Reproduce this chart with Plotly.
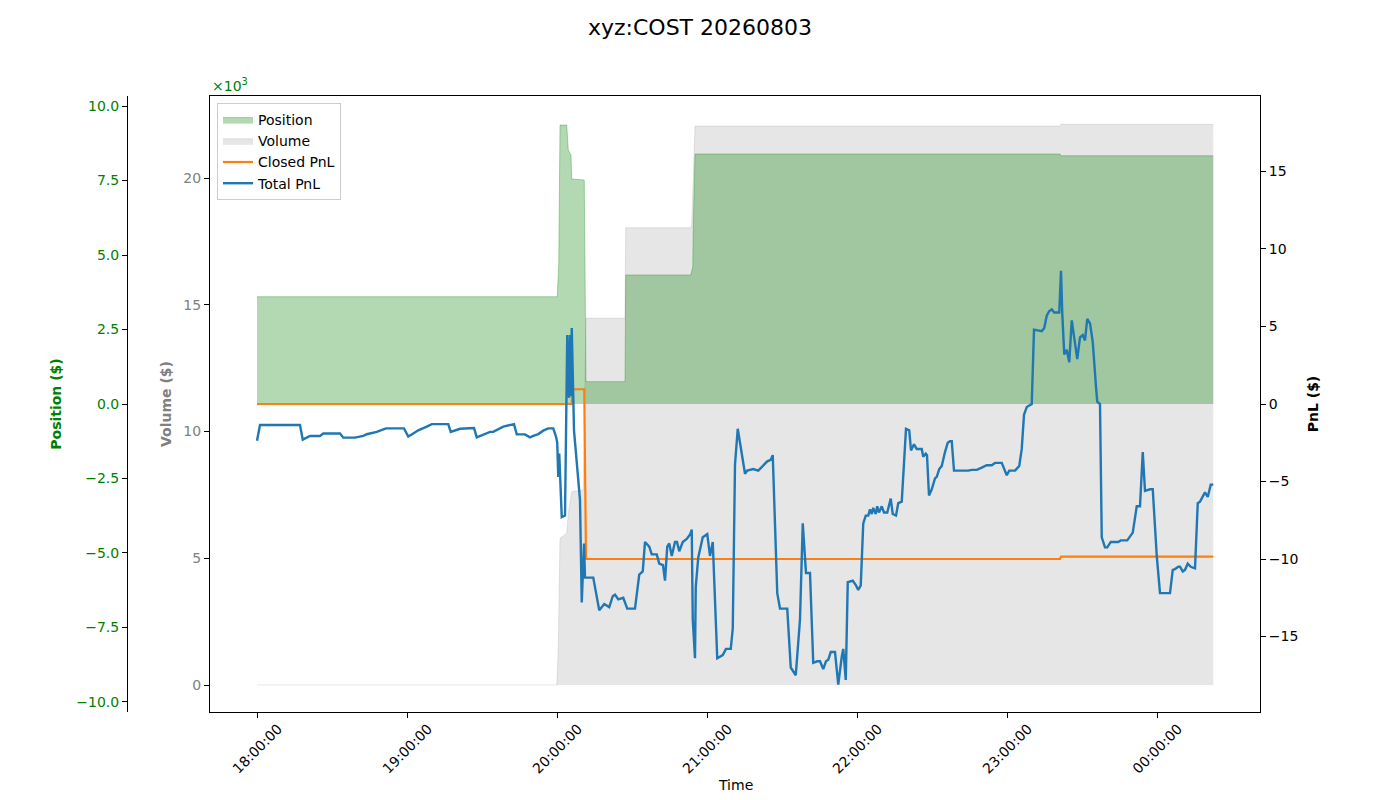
import pandas as pd
import plotly.graph_objects as go

# Session start; all series are stored as minutes after 18:00
start = pd.Timestamp('2026-08-03 18:00:00')

pnl_minutes = [0.0, 1.2, 17.2, 18.3, 21.2, 25.2, 26.5, 33.2, 34.5, 39.2, 42.5, 43.9, 47.9, 51.6, 58.8,
               60.5, 62.5, 64.5, 67.9, 69.9, 76.5, 77.5, 81.2, 84.5, 86.8, 87.9, 91.6, 93.2, 94.5, 96.5,
               98.5, 102.8, 103.9, 107.2, 109.2, 110.5, 112.5, 114.5, 116.5, 118.5, 119.6, 120.1, 120.5,
               120.9, 121.9, 123.2, 124.1, 124.8, 125.2, 125.5, 125.9, 126.8, 129.2, 129.9, 130.8, 131.2,
               134.5, 136.9, 138.9, 140.9, 142.3, 143.2, 144.5, 146.5, 148.1, 151.2, 152.9, 154.3, 155.2,
               156.9, 157.9, 159.9, 160.9, 162.4, 163.2, 164.1, 164.9, 165.9, 167.2, 168.0, 168.9, 170.3,
               171.9, 173.3, 173.9, 174.3, 175.2, 175.5, 176.5, 178.3, 180.1, 181.2, 182.3, 184.1, 185.2,
               186.3, 187.6, 189.5, 190.3, 191.2, 192.3, 195.2, 196.1, 198.5, 200.5, 202.3, 204.1, 205.5,
               206.3, 208.1, 209.2, 212.1, 213.5, 215.5, 217.2, 218.3, 219.6, 221.2, 222.5, 224.1, 225.2,
               226.5, 227.6, 228.5, 229.5, 231.2, 232.5, 233.9, 234.5, 235.5, 236.3, 238.3, 239.6, 240.5,
               241.5, 242.5, 243.5, 244.5, 245.2, 245.9, 246.5, 247.5, 248.1, 248.8, 249.9, 250.8, 252.1,
               253.5, 254.3, 255.6, 256.5, 257.9, 259.6, 260.9, 261.6, 262.8, 263.9, 265.9, 266.5, 267.5,
               268.0, 268.8, 269.9, 271.2, 271.9, 272.9, 273.9, 275.2, 276.3, 277.2, 277.9, 278.8, 284.5,
               285.9, 287.9, 289.9, 291.9, 293.9, 295.2, 297.9, 298.8, 299.9, 300.9, 303.2, 304.9, 305.9,
               306.8, 307.9, 309.9, 310.8, 313.9, 314.9, 315.9, 316.9, 317.9, 318.9, 320.9, 321.6, 322.1,
               322.9, 323.9, 324.9, 325.9, 326.8, 328.1, 329.2, 330.3, 331.2, 332.1, 333.2, 334.3, 335.6,
               336.1, 337.2, 337.9, 339.2, 340.1, 341.5, 344.5, 345.5, 348.1, 350.3, 351.9, 353.2, 354.3,
               355.2, 357.2, 358.3, 359.9, 361.2, 365.2, 366.3, 367.2, 368.5, 369.2, 370.3, 371.2, 372.3,
               373.5, 375.2, 376.3, 377.2, 379.2, 380.3, 381.5, 382.5]
total_pnl = [-2.37, -1.35, -1.35, -2.3, -2.06, -2.06, -1.9, -1.9, -2.17, -2.17, -2.06, -1.95, -1.8, -1.57, -1.57,
             -2.1, -1.9, -1.7, -1.46, -1.3, -1.3, -1.8, -1.6, -1.55, -1.55, -2.15, -1.9, -1.8, -1.8, -1.63,
             -1.46, -1.3, -1.96, -1.96, -2.15, -2.06, -1.94, -1.72, -1.57, -1.57, -2.1, -2.5, -4.7,
             -3.2, -7.3, -7.2, 4.45, 0.4, 4.45, 0.5, 4.9, -1.7, -6.2, -12.8, -9.0, -11.2,
             -11.2, -13.3, -12.9, -13.1, -12.4, -12.3, -12.6, -12.5, -13.2, -13.2, -11.0, -10.8, -8.9,
             -9.2, -9.7, -9.7, -10.3, -10.4, -11.4, -9.2, -9.0, -9.8, -8.9, -8.9, -9.5, -8.9,
             -8.7, -8.4, -8.1, -13.9, -16.4, -11.8, -9.9, -8.6, -8.4, -9.8, -8.9, -16.4, -16.3,
             -16.2, -15.8, -15.8, -14.5, -3.9, -1.6, -4.5, -4.3, -4.2, -4.3, -4.0, -3.7, -3.6,
             -3.3, -12.2, -13.2, -13.2, -17.0, -17.5, -13.9, -7.7, -10.9, -10.9, -16.7, -16.6, -16.6,
             -17.1, -16.6, -16.5, -16.0, -16.0, -18.1, -16.3, -15.8, -17.8, -11.5, -11.4, -11.7, -12.0,
             -11.7, -7.7, -7.2, -7.2, -6.8, -7.1, -6.7, -7.1, -6.6, -7.0, -6.6, -7.0, -7.0,
             -6.1, -7.1, -7.2, -6.4, -6.3, -1.6, -1.7, -3.0, -2.6, -2.9, -2.9, -3.4, -3.2,
             -3.3, -5.9, -5.5, -4.8, -4.7, -4.2, -4.0, -3.1, -2.5, -2.4, -2.4, -4.3, -4.3,
             -4.25, -4.25, -4.1, -3.95, -3.95, -3.8, -3.8, -4.2, -4.6, -4.3, -4.3, -4.0, -2.9,
             -0.7, -0.2, 0.0, 4.8, 4.7, 4.9, 5.7, 6.0, 6.1, 5.9, 5.9, 8.6, 5.85,
             3.2, 3.5, 2.7, 5.4, 4.5, 2.9, 4.3, 4.45, 4.1, 5.5, 5.2, 4.0, 1.1,
             0.15, 0.0, -8.6, -9.25, -9.25, -8.9, -8.9, -8.8, -8.8, -8.3, -6.6, -6.6, -3.1,
             -5.6, -5.5, -5.5, -9.8, -12.2, -12.2, -10.7, -10.65, -10.5, -10.5, -10.8, -10.7, -10.3,
             -10.5, -10.6, -6.4, -6.3, -5.7, -6.0, -5.2, -5.2]

closed_minutes = [0.0, 125.9, 126.0, 130.9, 131.6, 321.2, 321.6, 382.5]
closed_pnl = [0.0, 0.0, 0.95, 0.95, -10.0, -10.0, -9.85, -9.85]

pos_minutes = [0.0, 120.1, 120.7, 121.2, 123.9, 124.5, 125.6, 125.9, 130.9, 131.6, 147.2, 147.5,
               173.5, 174.3, 174.5, 175.2, 321.2, 321.6, 382.5]
position = [3600, 3600, 4720, 9360, 9360, 8520, 8360, 7550, 7520, 750, 750, 4330,
            4330, 4600, 5950, 8390, 8390, 8330, 8330]

vol_minutes = [0.0, 119.9, 120.5, 121.2, 123.9, 124.5, 125.9, 130.5, 131.6, 147.2, 147.5,
               173.5, 173.9, 174.3, 175.2, 321.2, 321.6, 382.5]
volume = [0, 0, 1380, 5790, 5980, 6770, 7630, 7690, 14470, 14470, 18040,
          18040, 18200, 19660, 22050, 22050, 22120, 22120]

pos_ticks = [-10000, -7500, -5000, -2500, 0, 2500, 5000, 7500, 10000]
pos_labels = ['\u221210.0', '\u22127.5', '\u22125.0', '\u22122.5', '0.0', '2.5', '5.0', '7.5', '10.0']
vol_ticks = [0, 5000, 10000, 15000, 20000]
vol_labels = ['0', '5', '10', '15', '20']
pnl_ticks = [-15, -10, -5, 0, 5, 10, 15]
pnl_labels = ['\u221215', '\u221210', '\u22125', '0', '5', '10', '15']
hour_ticks = ['2026-08-03 18:00', '2026-08-03 19:00', '2026-08-03 20:00', '2026-08-03 21:00',
              '2026-08-03 22:00', '2026-08-03 23:00', '2026-08-04 00:00']


def to_time(mins):
    return start + pd.to_timedelta(mins, unit='min')


# page body adds an 8px margin, so the figure is a bit smaller than the window
W, H = 1384, 784
PLOT_H = 616
font = 'DejaVu Sans'
fig = go.Figure()

# volume on the base axis so it sits underneath everything
fig.add_trace(go.Scatter(x=to_time(vol_minutes), y=volume, name='Volume', mode='lines',
                         fill='tozeroy', fillcolor='rgba(128,128,128,0.2)',
                         line=dict(color='rgba(128,128,128,0.2)', width=1),
                         yaxis='y', legendrank=2))
fig.add_trace(go.Scatter(x=to_time(pos_minutes), y=position, name='Position', mode='lines',
                         fill='tozeroy', fillcolor='rgba(0,128,0,0.3)',
                         line=dict(color='rgba(0,128,0,0.3)', width=1),
                         yaxis='y2', legendrank=1))
fig.add_trace(go.Scatter(x=to_time(closed_minutes), y=closed_pnl, name='Closed PnL', mode='lines',
                         line=dict(color='#ff7f0e', width=2.2), yaxis='y3', legendrank=3))
fig.add_trace(go.Scatter(x=to_time(pnl_minutes), y=total_pnl, name='Total PnL', mode='lines',
                         line=dict(color='#1f77b4', width=2.4), yaxis='y3', legendrank=4))

axis_common = dict(showline=True, linecolor='black', linewidth=1, ticks='outside', ticklen=5,
                   tickcolor='black', showgrid=False, zeroline=False)

fig.update_layout(
    width=W, height=H,
    paper_bgcolor='white', plot_bgcolor='white',
    margin=dict(l=0, r=0, t=88, b=80),
    font=dict(family=font, size=14, color='black'),
    title=dict(text='xyz:COST 20260803', x=0.5, xanchor='center', y=1 - 19 / H, yanchor='middle',
               yref='container', font=dict(size=22, family=font, color='black')),
    xaxis=dict(domain=[202 / W, 1252 / W], type='date',
               range=['2026-08-03 17:41:12', '2026-08-04 00:41:12'],
               tickvals=hour_ticks, showticklabels=False, mirror=True,
               **axis_common),
    yaxis=dict(range=[-1065, 23235], tickvals=vol_ticks, ticktext=vol_labels,
               tickfont=dict(color='gray'),
               title=dict(text='<b>Volume ($)</b>', font=dict(color='gray', size=14), standoff=8),
               **axis_common),
    yaxis2=dict(range=[-10336, 10336], tickvals=pos_ticks, ticktext=pos_labels,
                overlaying='y', anchor='free', position=119 / W, side='left',
                tickfont=dict(color='green'),
                title=dict(text='<b>Position ($)</b>', font=dict(color='green', size=14), standoff=10),
                **axis_common),
    yaxis3=dict(range=[-19.87, 19.87], tickvals=pnl_ticks, ticktext=pnl_labels,
                overlaying='y', anchor='x', side='right',
                title=dict(text='<b>PnL ($)</b>', font=dict(size=14), standoff=10),
                **axis_common),
    legend=dict(x=209 / W, y=1 - 7 / PLOT_H, xanchor='left', yanchor='top',
                bgcolor='rgba(255,255,255,0.8)', bordercolor='#cccccc', borderwidth=1,
                font=dict(size=14), traceorder='normal'),
    showlegend=True,
)

# rotated time labels centred under each tick (matplotlib style)
for t in hour_ticks:
    fig.add_annotation(text=pd.Timestamp(t).strftime('%H:%M:%S'), x=t, xref='x',
                       y=-37 / PLOT_H, yref='paper', xanchor='center', yanchor='middle',
                       textangle=-45, showarrow=False, font=dict(size=14, family=font))

fig.add_annotation(text='Time', xref='paper', yref='paper', x=727 / W, y=-73 / PLOT_H,
                   xanchor='center', yanchor='middle', showarrow=False, borderpad=0,
                   font=dict(size=14, family=font))

fig.add_annotation(text='\u00d710<sup>3</sup>', xref='paper', yref='paper', x=202 / W, y=1,
                   xanchor='left', yanchor='bottom', showarrow=False,
                   font=dict(color='green', size=14, family=font))

fig.write_html('out.html')
